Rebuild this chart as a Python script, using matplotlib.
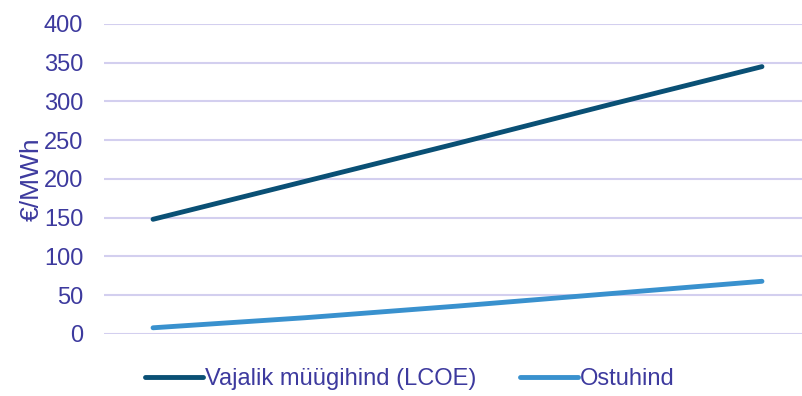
import matplotlib.pyplot as plt

plt.rcParams['font.family'] = ['Liberation Sans', 'DejaVu Sans']

# hinnad (€/MWh) ajas
steps = [0, 1, 2, 3, 4]
lcoe = [148, 197, 246, 296, 345]
ostuhind = [8, 21, 36, 52, 68]

text_color = '#3D3A9E'
grid_color = '#D3CFEF'

fig = plt.figure(figsize=(8.02, 3.96), dpi=100)
ax = fig.add_axes([0.1297, 0.1566, 0.8703, 0.7828])

ax.plot(steps, lcoe, color='#0A5075', linewidth=3.5, solid_capstyle='round',
        label='Vajalik müügihind (LCOE)')
ax.plot(steps, ostuhind, color='#3991CE', linewidth=3.5, solid_capstyle='round',
        label='Ostuhind')

ax.set_ylim(0, 400)
ax.set_xlim(-0.322, 4.263)
ax.set_yticks(range(0, 401, 50))
ax.set_xticks([])
ax.yaxis.grid(True, color=grid_color, linewidth=1.5)
ax.set_axisbelow(True)
for s in ax.spines.values():
    s.set_visible(False)
ax.tick_params(axis='y', length=0, pad=15, labelsize=17, labelcolor=text_color)
ax.set_ylabel('€/MWh', fontsize=19, color=text_color, labelpad=0)

fig.legend(loc='center', bbox_to_anchor=(0.511, 0.043), ncol=2, frameon=False,
           fontsize=17, labelcolor=text_color, handlelength=2.45,
           handletextpad=0.1, columnspacing=1.85)

fig.savefig('out.png', dpi=100)
